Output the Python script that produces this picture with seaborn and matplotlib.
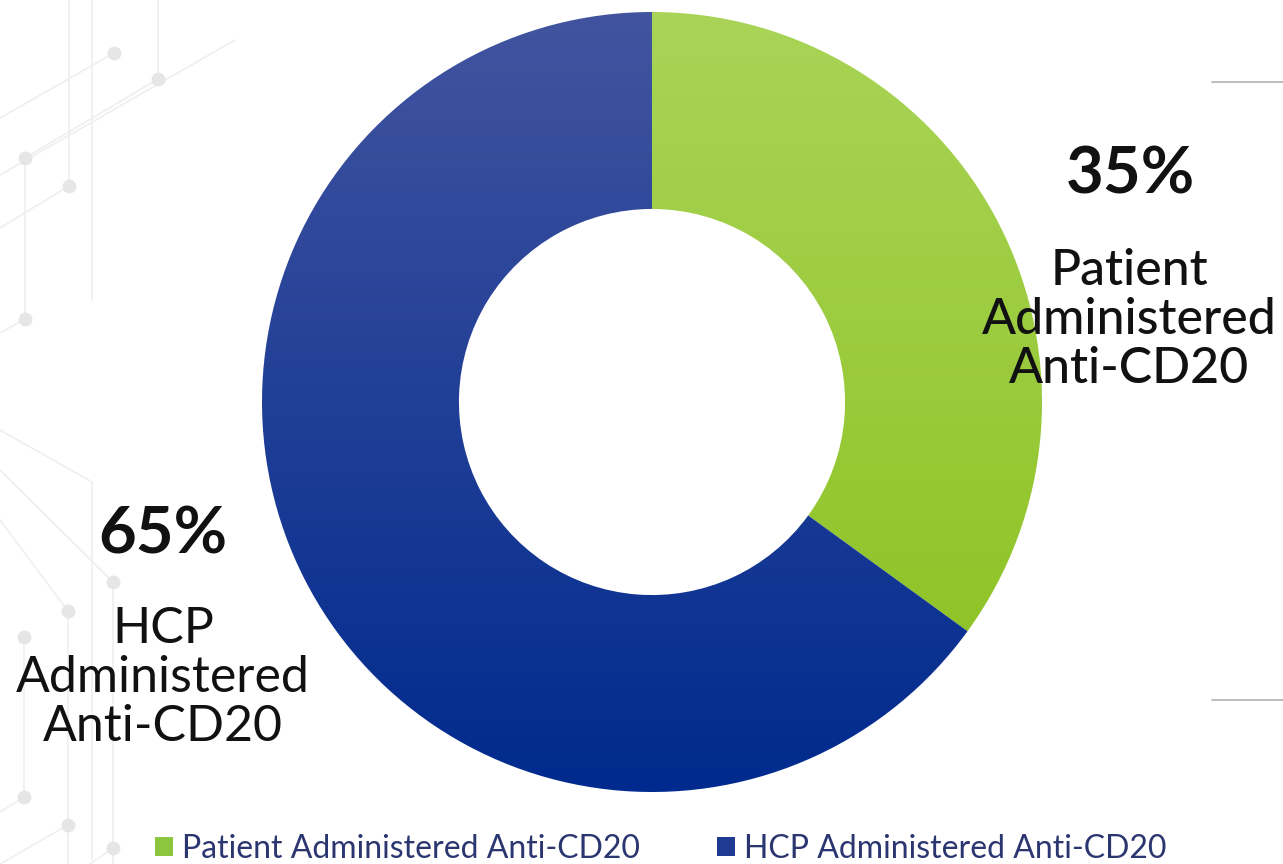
import numpy as np
import matplotlib.pyplot as plt
import matplotlib.colors as mcolors
from matplotlib.patches import Patch
import seaborn as sns

# data
labels = ["Patient Administered Anti-CD20", "HCP Administered Anti-CD20"]
chart_labels = ["Patient\nAdministered\nAnti-CD20", "HCP\nAdministered\nAnti-CD20"]
shares = [35, 65]
top_colors = ["#a9d457", "#42549f"]
bottom_colors = ["#89c01c", "#002a8e"]
legend_colors = ["#8cc63f", "#1f3a93"]

sns.set_theme(style="white")
plt.rcParams['font.family'] = ['Lato', 'DejaVu Sans']

W, H = 1283, 864
fig = plt.figure(figsize=(W / 100, H / 100), dpi=100)
fig.patch.set_facecolor("white")

# faint background network on the left (in pixel coords)
bg = fig.add_axes([0, 0, 1, 1])
bg.set_xlim(0, W)
bg.set_ylim(H, 0)
bg.axis("off")
seg = [
    [(158, 0), (158, 79)], [(158, 79), (25, 158)], [(25, 158), (25, 319)],
    [(69, 0), (69, 186)], [(69, 186), (0, 228)], [(114, 53), (0, 118)],
    [(235, 40), (0, 175)], [(25, 319), (0, 333)], [(92, 0), (92, 300)],
    [(0, 430), (92, 482)], [(92, 482), (92, 860)], [(0, 470), (113, 582)],
    [(113, 582), (113, 864)], [(0, 520), (68, 611)], [(68, 611), (68, 864)],
    [(24, 637), (24, 797)], [(24, 797), (0, 812)], [(68, 825), (0, 864)],
    [(113, 848), (90, 864)],
]
for (x0, y0), (x1, y1) in seg:
    bg.plot([x0, x1], [y0, y1], color="#efefef", lw=1.2, zorder=0)
nodes = [(158, 79), (25, 158), (69, 186), (114, 53), (25, 319), (113, 582),
         (68, 611), (24, 637), (24, 797), (68, 825), (113, 848)]
for x, y in nodes:
    bg.plot(x, y, "o", color="#e6e6e6", ms=9, zorder=0)
# grey lines on the right
bg.plot([1212, W], [82, 82], color="#b0b0b0", lw=1.2)
bg.plot([1212, W], [700, 700], color="#b0b0b0", lw=1.2)

# donut
cx, cy, R = 652, 402, 390
ax = fig.add_axes([(cx - R) / W, (H - cy - R) / H, 2 * R / W, 2 * R / H])
wedges, _ = ax.pie(shares, startangle=90, counterclock=False, radius=1,
                   wedgeprops=dict(width=0.505, edgecolor="none"))
ax.set_xlim(-1, 1)
ax.set_ylim(-1, 1)
ax.axis("off")
grad = np.linspace(0, 1, 256).reshape(-1, 1)
for w, c0, c1 in zip(wedges, top_colors, bottom_colors):
    cmap = mcolors.LinearSegmentedColormap.from_list("g", [c0, c1])
    im = ax.imshow(grad, cmap=cmap, extent=(-1, 1, -1, 1), origin="upper",
                   aspect="auto", zorder=2)
    im.set_clip_path(w)
    w.set_facecolor("none")

# labels
fig.text(1130 / W, 1 - 175 / H, f"{shares[0]}%", ha="center", va="center",
         fontsize=47, fontweight="bold", color="#111111")
fig.text(1129 / W, 1 - 320 / H, chart_labels[0], ha="center", va="center",
         fontsize=36, fontweight="medium", color="#111111", linespacing=1.08)
fig.text(163 / W, 1 - 535 / H, f"{shares[1]}%", ha="center", va="center",
         fontsize=47, fontweight="bold", color="#111111")
fig.text(163 / W, 1 - 678 / H, chart_labels[1], ha="center", va="center",
         fontsize=36, color="#111111", linespacing=1.08)

handles = [Patch(facecolor=c, edgecolor="none") for c in legend_colors]
fig.legend(handles, labels, loc="center", bbox_to_anchor=(661 / W, 1 - 849 / H),
           ncol=2, frameon=False, fontsize=23, handlelength=0.55, handleheight=0.55,
           handletextpad=0.3, columnspacing=2.4, labelcolor="#2b3670")

fig.savefig("out.png", dpi=100)
